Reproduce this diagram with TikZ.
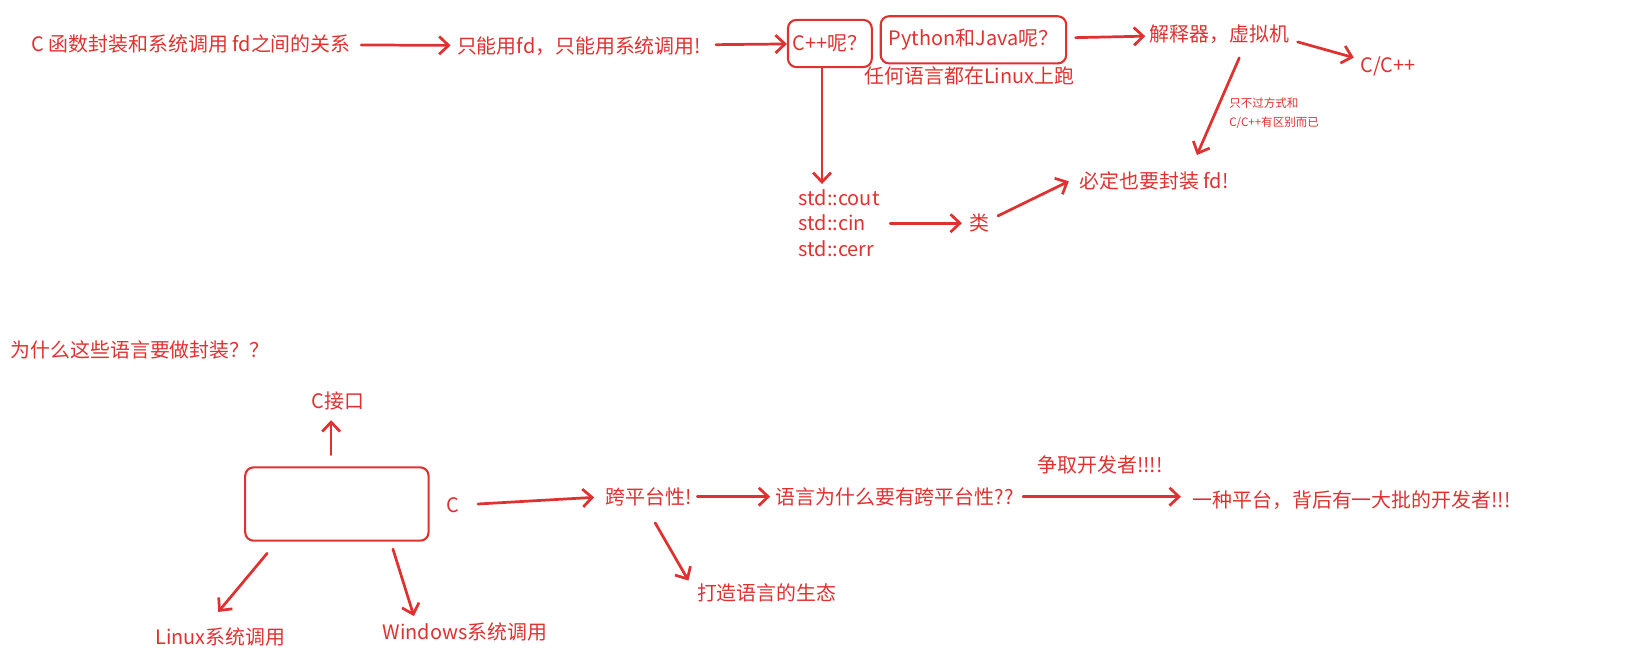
\documentclass[tikz,border=0pt]{standalone}
\usepackage{fontspec}
\usepackage{tikz}
\usetikzlibrary{positioning, arrows.meta, calc}
\newfontfamily\cjk{Noto Sans CJK SC}
\definecolor{SkRed}{RGB}{224,49,49}

\begin{document}
\begin{tikzpicture}[x=1pt, y=-1pt,
          txt/.style={text=SkRed, inner sep=0pt, anchor=west,
                      font=\cjk\fontsize{19}{23}\selectfont},
          note/.style={txt, align=left, font=\cjk\fontsize{11}{18}\selectfont},
          box/.style={draw=SkRed, line width=2pt, rounded corners=8pt, anchor=center},
          arr/.style={-{Straight Barb[length=9pt, width=17pt]}, SkRed,
                      line width=2.6pt, line cap=round, line join=round}
        ]
        \useasboundingbox (0,0) rectangle (1568,638);

        % top row
        \node[txt] (rel)    at (30, 42)   {C 函数封装和系统调用 fd之间的关系};
        \node[txt] (fdonly) at (436, 44)  {只能用fd，只能用系统调用!};
        \node[txt, box, minimum width=80pt, minimum height=45pt] (cpp) at (792, 41.5)
              {C++呢？};
        \node[txt, box, minimum width=177pt, minimum height=45pt] (py) at (929, 38)
              {Python和Java呢？};
        \node[txt] (anylang) at (825, 72)  {任何语言都在Linux上跑};
        \node[txt] (interp)  at (1097, 33) {解释器，虚拟机};
        \node[txt] (cxx)     at (1298, 63) {C/C++};
        \node[note] (diff)   at (1173, 108) {只不过方式和\\C/C++有区别而已};
        \node[txt, align=left, font=\cjk\fontsize{19}{24.5}\selectfont] (streams)
              at (762, 213) {std::cout\\std::cin\\std::cerr};
        \node[txt] (cls)  at (925, 213)  {类};
        \node[txt] (must) at (1030, 173) {必定也要封装 fd!};

        \draw[arr, shorten <=10pt, shorten >=6pt] (rel)--(fdonly);
        \draw[arr, shorten <=14pt] (fdonly)--(cpp);
        \draw[arr, shorten <=8pt, shorten >=4pt] (py)--(interp);
        \draw[arr] ([shift={(8,7)}]interp.east)--([shift={(-6,-8)}]cxx.west);
        \draw[arr] ([shift={(19,13)}]interp.south)--([shift={(41,-16)}]must.north);
        \draw[arr, shorten >=5pt] ([xshift=-7.5pt]cpp.south)--([xshift=-7.5pt]cpp.south |- streams.north);
        \draw[arr, shorten <=10pt, shorten >=7pt] (streams.east |- cls.west)--(cls.west);
        \draw[arr] ([shift={(8,-7)}]cls.east)--([xshift=-10pt]must.west);

        % bottom part
        \node[txt] (why)   at (10, 334)  {为什么这些语言要做封装？？};
        \node[txt] (cif)   at (297, 383) {C接口};
        \node[box, minimum width=175pt, minimum height=70pt] (core) at (321.5, 481) {};
        \node[txt, anchor=center] (cc) at (432, 482) {C};
        \node[txt] (xplat) at (578, 474)  {跨平台性!};
        \node[txt] (lang)  at (740, 474)  {语言为什么要有跨平台性??};
        \node[txt] (gain)  at (990, 444)  {争取开发者!!!!};
        \node[txt] (plat)  at (1138, 477) {一种平台，背后有一大批的开发者!!!};
        \node[txt] (eco)   at (665, 566)  {打造语言的生态};
        \node[txt] (linux) at (148, 608)  {Linux系统调用};
        \node[txt] (win)   at (365, 603)  {Windows系统调用};

        \draw[arr, shorten <=11pt, shorten >=9pt] ([xshift=-5.5pt]core.north)--([xshift=-5.5pt]core.north |- cif.south);
        \draw[arr, shorten <=18pt, shorten >=11pt] (cc.east)--(xplat.west);
        \draw[arr, shorten <=5pt, shorten >=5pt] (xplat)--(lang);
        \draw[arr, shorten <=9pt, shorten >=11pt] (lang.east)--(lang.east -| plat.west);
        \draw[arr] ([shift={(6,16)}]xplat.south)--([shift={(-8,-3)}]eco.north west);
        \draw[arr] ([shift={(22,11)}]core.south west)--([shift={(-2,-15)}]linux.north);
        \draw[arr] ([shift={(-35,7)}]core.south east)--([shift={(30,-6)}]win.north west);
      \end{tikzpicture}
\end{document}
